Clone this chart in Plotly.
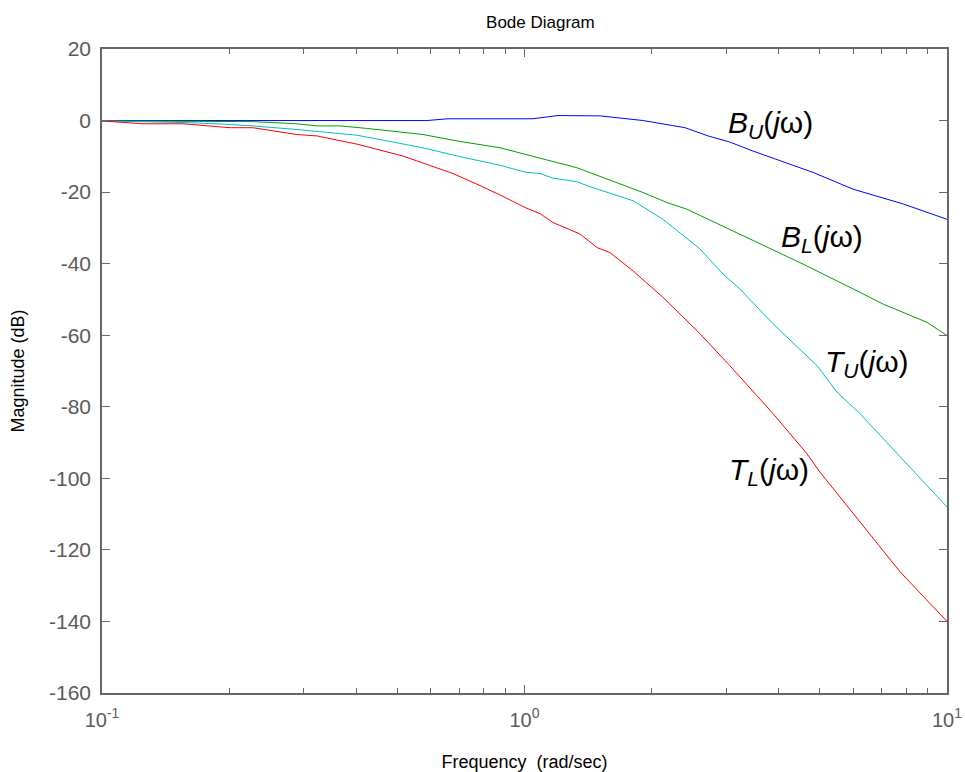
import math
import plotly.graph_objects as go

# Blue: B_U
bu_w = [0.1, 0.587, 0.659, 1.047, 1.2, 1.51, 1.91, 2.40, 2.72, 3.06, 3.47, 4.82, 6.0, 6.94, 7.87, 10]
bu_db = [0, 0, 0.5, 0.5, 1.4, 1.3, 0, -2, -4.3, -6, -8.5, -14.5, -19.2, -21.5, -23.3, -27.6]

# Green: B_L
bl_w = [0.1, 0.2275, 0.289, 0.323, 0.366, 0.424, 0.575, 0.692, 0.875, 1.331, 1.907, 2.173, 2.425, 3.112, 4.56, 6.22, 7.06, 8.97, 10]
bl_db = [-0.1, -0.3, -0.9, -1.5, -1.5, -2.2, -3.9, -5.7, -7.6, -13.2, -20.1, -22.9, -24.8, -30.8, -40.1, -48.0, -51.3, -56.4, -60.1]

# Cyan: T_U
tu_w = [0.1, 0.1615, 0.201, 0.2275, 0.289, 0.4015, 0.575, 0.692, 0.875, 1.003, 1.088, 1.168, 1.331, 1.429, 1.806, 2.127, 2.603, 2.949, 3.236, 3.874, 4.924, 5.49, 6.22, 7.74, 10]
tu_db = [-0.1, -0.6, -1.1, -1.5, -2.5, -4.1, -7.6, -9.9, -12.5, -14.4, -14.8, -16.1, -17.1, -18.5, -22.4, -27.6, -35.9, -42.9, -47.1, -56.8, -68.5, -75.9, -81.9, -94.0, -108.0]

# Red: T_L
tl_w = [0.1, 0.125, 0.1555, 0.201, 0.2275, 0.289, 0.323, 0.4015, 0.515, 0.575, 0.677, 0.772, 0.875, 1.003, 1.088, 1.168, 1.353, 1.485, 1.593, 1.806, 2.127, 2.603, 3.062, 3.874, 4.66, 5.0, 6.47, 7.74, 10]
tl_db = [-0.1, -0.9, -0.9, -2.0, -2.0, -3.9, -4.3, -6.6, -9.9, -11.8, -14.8, -17.8, -20.8, -24.3, -26.0, -28.5, -31.7, -35.5, -36.9, -42.0, -49.4, -59.6, -68.5, -81.9, -93.1, -98.2, -114.5, -126.1, -140]

x_tickvals = [0.1, 1, 10]
x_ticktext = ["10<sup>-1</sup>", "10<sup>0</sup>", "10<sup>1</sup>"]
x_minor = [m * d for d in (0.1, 1) for m in range(2, 10)]
y_tickvals = [20, 0, -20, -40, -60, -80, -100, -120, -140, -160]
y_ticktext = ["20", "0", "-20", "-40", "-60", "-80", "-100", "-120", "-140", "-160"]

labels = [
    ("<i>B</i><sub><i>U</i></sub>(<i>j</i>ω)", 3.0, -1.0),
    ("<i>B</i><sub><i>L</i></sub>(<i>j</i>ω)", 4.0, -33.0),
    ("<i>T</i><sub><i>U</i></sub>(<i>j</i>ω)", 5.08, -68.0),
    ("<i>T</i><sub><i>L</i></sub>(<i>j</i>ω)", 3.02, -98.0),
]

FONT = "Liberation Sans, Arial, sans-serif"
AX = "#666666"
TXT = "#5a5a5a"

fig = go.Figure()
for w, db, c in [(bu_w, bu_db, "#0000ff"), (bl_w, bl_db, "#00a000"),
                 (tu_w, tu_db, "#00bfbf"), (tl_w, tl_db, "#ff0000")]:
    fig.add_trace(go.Scatter(x=w, y=db, mode="lines", line=dict(color=c, width=1),
                             showlegend=False, hoverinfo="skip"))

for txt, xv, yv in labels:
    fig.add_annotation(x=math.log10(xv), y=yv, xref="x", yref="y", text=txt, showarrow=False,
                       xanchor="left", yanchor="middle",
                       font=dict(family=FONT, size=30, color="black"))

fig.update_layout(
    width=965, height=772,
    margin=dict(l=102, r=18, t=49, b=79),
    paper_bgcolor="white", plot_bgcolor="white",
    font=dict(family=FONT, size=17, color="black"),
    title=dict(text="Bode Diagram", x=0.56, xanchor="center", y=0.972, yanchor="middle",
               font=dict(family=FONT, size=17, color="black")),
)
fig.update_xaxes(
    type="log", range=[-1, 1], tickvals=x_tickvals, ticktext=x_ticktext,
    ticks="inside", ticklen=8, tickcolor=AX, tickwidth=1,
    showline=True, linecolor=AX, linewidth=1.5, mirror="ticks",
    showgrid=False, zeroline=False, ticklabelstandoff=8,
    tickfont=dict(family=FONT, size=20, color=TXT),
    minor=dict(tickvals=x_minor, ticks="inside", ticklen=5, tickcolor=AX, showgrid=False),
    title=dict(text="Frequency\u00a0 (rad/sec)", standoff=28, font=dict(family=FONT, size=18, color="black")),
    automargin=False,
)
fig.update_yaxes(
    range=[-160, 20], tickvals=y_tickvals, ticktext=y_ticktext,
    ticks="inside", ticklen=8, tickcolor=AX, tickwidth=1,
    showline=True, linecolor=AX, linewidth=1.5, mirror="ticks",
    showgrid=False, zeroline=False, ticklabelstandoff=5,
    tickfont=dict(family=FONT, size=21, color=TXT),
    title=dict(text="Magnitude (dB)", standoff=20, font=dict(family=FONT, size=18, color="black")),
    automargin=False,
)

fig.write_html("out.html")
